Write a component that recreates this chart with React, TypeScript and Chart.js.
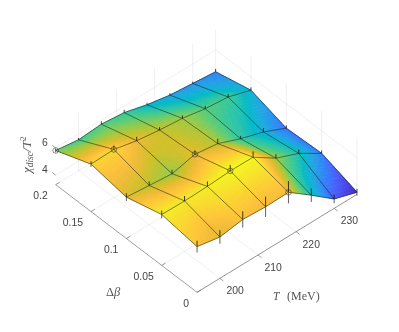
import React, { useEffect, useRef } from "react";
import { Chart, registerables } from "chart.js";

Chart.register(...registerables);

// ---- data ----
const temperature = [194, 200, 206, 212, 218, 224, 230, 236];
const deltaBeta = [0, 0.05, 0.1, 0.15, 0.2];
const chi00 = [6.66, 6.34, 6.6, 6.5, 6.54, 5.3, 3.99, 3.46];
const chi05 = [7.04, 7.01, 7.05, 7.16, 7.14, 6.04, 5.36, 4.34];
const chi10 = [6.34, 6.17, 6.0, 6.4, 6.16, 5.49, 4.96, 4.21];
const chi15 = [6.79, 6.84, 6.45, 6.21, 6.04, 5.72, 5.55, 5.02];
const chi20 = [5.81, 5.57, 5.69, 5.51, 5.06, 4.74, 4.57, 4.4];
const err00 = [0.43, 0.5, 0.6, 0.75, 0.82, 0.5, 0.32, 0.25];
const err05 = [0.29, 0.36, 0.36, 0.43, 0.43, 0.29, 0.29, 0.21];
const err10 = [0.29, 0.29, 0.29, 0.29, 0.36, 0.21, 0.29, 0.21];
const err15 = [0.21, 0.29, 0.29, 0.21, 0.21, 0.21, 0.21, 0.21];
const err20 = [0.14, 0.14, 0.21, 0.21, 0.14, 0.14, 0.14, 0.21];
const markerT = [194, 200, 212, 212, 218];
const markerBeta = [0.2, 0.15, 0.1, 0.05, 0];
const tTicks = [200, 210, 220, 230];
const betaTicks = [0, 0.05, 0.1, 0.15, 0.2];
const betaTickLabels = ["0", "0.05", "0.1", "0.15", "0.2"];
const zTicks = [4, 6];

const chi = [chi00, chi05, chi10, chi15, chi20];
const errs = [err00, err05, err10, err15, err20];

// ---- view of the 3D box ----
const T_MIN = 194, T_MAX = 236, B_MIN = 0, B_MAX = 0.2, Z_MIN = 3.3, Z_MAX = 7.5;
const C_MIN = 3.35, C_MAX = 7.2;
const project = (t: number, b: number, z: number) => ({
  x: 197 + (t - T_MIN) * 3.9 - b * 724,
  y: 296 - (t - T_MIN) * 2.4 - b * 554 - (z - Z_MIN) * 14,
});
const GAP = { x: NaN, y: NaN };

const parula = [
  [0.2422, 0.1504, 0.6603], [0.2647, 0.1978, 0.7952], [0.2783, 0.2559, 0.8991],
  [0.281, 0.3228, 0.9579], [0.2699, 0.3892, 0.9906], [0.2206, 0.4603, 0.9973],
  [0.1786, 0.5289, 0.9682], [0.154, 0.5902, 0.9218], [0.1248, 0.6459, 0.8883],
  [0.0689, 0.6948, 0.8394], [0.0067, 0.7312, 0.766], [0.1408, 0.7584, 0.6842],
  [0.2161, 0.7843, 0.5923], [0.3406, 0.8008, 0.4789], [0.5044, 0.7993, 0.348],
  [0.672, 0.7793, 0.2227], [0.8203, 0.7498, 0.1535], [0.9393, 0.7288, 0.21],
  [0.997, 0.7659, 0.2199], [0.9786, 0.8386, 0.1766], [0.9597, 0.9135, 0.1423],
  [0.9769, 0.9839, 0.0805],
];
const colorOf = (z: number) => {
  const u = Math.max(0, Math.min(1, (z - C_MIN) / (C_MAX - C_MIN))) * (parula.length - 1);
  const k = Math.min(parula.length - 2, Math.floor(u));
  const f = u - k;
  const c = parula[k].map((v, n) => Math.round(255 * (v + (parula[k + 1][n] - v) * f)));
  return `rgb(${c[0]},${c[1]},${c[2]})`;
};

const segs = (list: [number, number, number, number, number, number][]) => {
  const out: { x: number; y: number }[] = [];
  list.forEach(([a, b, c, d, e, f]) => out.push(project(a, b, c), project(d, e, f), GAP));
  return out;
};

type Seg = [number, number, number, number, number, number];
const gridSegs: Seg[] = [];
tTicks.forEach((t) => {
  gridSegs.push([t, B_MIN, Z_MIN, t, B_MAX, Z_MIN]);
  gridSegs.push([t, B_MAX, Z_MIN, t, B_MAX, Z_MAX]);
});
betaTicks.forEach((b) => {
  gridSegs.push([T_MIN, b, Z_MIN, T_MAX, b, Z_MIN]);
  gridSegs.push([T_MAX, b, Z_MIN, T_MAX, b, Z_MAX]);
});
zTicks.forEach((z) => {
  gridSegs.push([T_MIN, B_MAX, z, T_MAX, B_MAX, z]);
  gridSegs.push([T_MAX, B_MAX, z, T_MAX, B_MIN, z]);
});
const axisSegs: Seg[] = [
  [T_MIN, B_MIN, Z_MIN, T_MAX, B_MIN, Z_MIN],
  [T_MIN, B_MIN, Z_MIN, T_MIN, B_MAX, Z_MIN],
];
tTicks.forEach((t) => axisSegs.push([t, B_MIN, Z_MIN, t, B_MIN - 0.005, Z_MIN]));
betaTicks.forEach((b) => axisSegs.push([T_MIN, b, Z_MIN, T_MIN + 1, b, Z_MIN]));
zTicks.forEach((z) => axisSegs.push([T_MIN, B_MAX, z, T_MIN, B_MAX + 0.005, z]));

const lowerBars: Seg[] = [];
const upperBars: Seg[] = [];
const meshLines: Seg[] = [];
deltaBeta.forEach((b, j) =>
  temperature.forEach((t, i) => {
    const z = chi[j][i];
    lowerBars.push([t, b, z - errs[j][i], t, b, z]);
    upperBars.push([t, b, z, t, b, z + errs[j][i]]);
    if (i < temperature.length - 1) meshLines.push([t, b, z, temperature[i + 1], b, chi[j][i + 1]]);
    if (j < deltaBeta.length - 1) meshLines.push([t, b, z, t, deltaBeta[j + 1], chi[j + 1][i]]);
  })
);
const surfacePoints = deltaBeta.flatMap((b, j) => temperature.map((t, i) => project(t, b, chi[j][i])));
const markerPoints = markerT.map((t, k) => {
  const i = temperature.indexOf(t);
  const j = deltaBeta.indexOf(markerBeta[k]);
  return project(t, markerBeta[k], chi[j][i]);
});

const surfacePlugin = {
  id: "surface",
  afterDatasetDraw(chart: any, args: any) {
    if (chart.data.datasets[args.index].label !== "surface") return;
    const pts = args.meta.data;
    const nI = temperature.length;
    const ctx = chart.ctx as CanvasRenderingContext2D;
    const N = 14;
    ctx.save();
    ctx.lineWidth = 0.7;
    for (let j = deltaBeta.length - 2; j >= 0; j--) {
      for (let i = nI - 2; i >= 0; i--) {
        const p00 = pts[j * nI + i], p10 = pts[j * nI + i + 1];
        const p01 = pts[(j + 1) * nI + i], p11 = pts[(j + 1) * nI + i + 1];
        const z00 = chi[j][i], z10 = chi[j][i + 1], z01 = chi[j + 1][i], z11 = chi[j + 1][i + 1];
        const lerp = (a: number, b: number, c: number, d: number, u: number, v: number) =>
          a * (1 - u) * (1 - v) + b * u * (1 - v) + c * (1 - u) * v + d * u * v;
        for (let m = N - 1; m >= 0; m--) {
          for (let n = N - 1; n >= 0; n--) {
            const c = [[n, m], [n + 1, m], [n + 1, m + 1], [n, m + 1]].map(([a, b]) => ({
              x: lerp(p00.x, p10.x, p01.x, p11.x, a / N, b / N),
              y: lerp(p00.y, p10.y, p01.y, p11.y, a / N, b / N),
            }));
            const col = colorOf(lerp(z00, z10, z01, z11, (n + 0.5) / N, (m + 0.5) / N));
            ctx.fillStyle = col;
            ctx.strokeStyle = col;
            ctx.beginPath();
            c.forEach((q, k) => (k ? ctx.lineTo(q.x, q.y) : ctx.moveTo(q.x, q.y)));
            ctx.closePath();
            ctx.fill();
            ctx.stroke();
          }
        }
      }
    }
    ctx.restore();
  },
};

const SANS = '10.4px "Liberation Sans", Arial, sans-serif';
const labelPlugin = {
  id: "labels",
  afterDraw(chart: any) {
    const ctx = chart.ctx as CanvasRenderingContext2D;
    const sx = chart.scales.x, sy = chart.scales.y;
    const at = (t: number, b: number, z: number) => {
      const p = project(t, b, z);
      return { x: sx.getPixelForValue(p.x), y: sy.getPixelForValue(p.y) };
    };
    ctx.save();
    ctx.fillStyle = "#444444";
    ctx.font = SANS;
    ctx.textBaseline = "middle";
    ctx.textAlign = "right";
    betaTicks.forEach((b, k) => {
      const p = at(T_MIN, b, Z_MIN);
      ctx.fillText(betaTickLabels[k], p.x - 8, p.y + 11.5);
    });
    zTicks.forEach((z) => {
      const p = at(T_MIN, B_MAX, z);
      ctx.fillText(String(z), p.x - 8, p.y - 4.5);
    });
    ctx.textAlign = "left";
    tTicks.forEach((t) => {
      const p = at(t, B_MIN, Z_MIN);
      ctx.fillText(String(t), p.x + 6.5, p.y + 13);
    });

    const I = '"Liberation Serif", serif';
    type Span = { s: string; f: string; dy: number };
    const flow = (spans: Span[], x: number, y: number) => {
      let cx = x;
      spans.forEach((sp) => {
        ctx.font = sp.f;
        ctx.fillText(sp.s, cx, y + sp.dy);
        cx += ctx.measureText(sp.s).width;
      });
    };
    ctx.textBaseline = "alphabetic";
    ctx.fillStyle = "#555555";
    flow([{ s: "T", f: `italic 11.5px ${I}`, dy: 0 }], 273, 299.5);
    flow([{ s: "(MeV)", f: `12px ${I}`, dy: 0 }], 287, 299.5);
    flow(
      [
        { s: "\u0394", f: `12.5px ${I}`, dy: 0 },
        { s: "\u03B2", f: `italic 12.5px ${I}`, dy: 0 },
      ],
      106,
      296
    );
    ctx.translate(31, 173);
    ctx.rotate(-Math.PI / 2);
    flow(
      [
        { s: "\u03C7", f: `italic 13px ${I}`, dy: 0 },
        { s: "disc", f: `italic 9.5px ${I}`, dy: 2 },
        { s: "/T", f: `italic 13.5px ${I}`, dy: 0 },
        { s: "2", f: `8.5px ${I}`, dy: -5 },
      ],
      0,
      0
    );
    ctx.restore();
  },
};

const lineSet = (label: string, data: any[], color: string, width: number) => ({
  label,
  data,
  showLine: true,
  pointRadius: 0,
  borderColor: color,
  borderWidth: width,
  spanGaps: false,
  fill: false,
});

export default function App() {
  const ref = useRef<HTMLCanvasElement>(null);
  useEffect(() => {
    const paintOrder: any[] = [
      lineSet("grid", segs(gridSegs), "rgba(120,120,120,0.14)", 0.8),
      lineSet("axes", segs(axisSegs), "rgba(70,70,70,0.65)", 0.8),
      lineSet("lower bars", segs(lowerBars), "rgba(20,20,20,0.75)", 0.9),
      { label: "surface", data: surfacePoints, showLine: false, pointRadius: 0 },
      lineSet("mesh", segs(meshLines), "rgba(15,25,25,0.75)", 0.7),
      lineSet("upper bars", segs(upperBars), "rgba(10,10,10,0.85)", 0.9),
      {
        label: "markers",
        data: markerPoints,
        showLine: false,
        pointRadius: 2.8,
        pointStyle: "circle",
        pointBackgroundColor: "rgba(0,0,0,0)",
        pointBorderColor: "rgba(30,30,30,0.7)",
        pointBorderWidth: 0.7,
      },
    ];
    paintOrder.forEach((d, k) => (d.order = paintOrder.length - k));
    const chart = new Chart(ref.current as HTMLCanvasElement, {
      type: "scatter",
      data: { datasets: paintOrder },
      options: {
        responsive: false,
        animation: false,
        layout: { padding: 0 },
        plugins: { legend: { display: false }, tooltip: { enabled: false } },
        scales: {
          x: { type: "linear", min: 0, max: 399, display: false },
          y: { type: "linear", min: 0, max: 332, reverse: true, display: false },
        },
      },
      plugins: [surfacePlugin, labelPlugin],
    } as any);
    return () => chart.destroy();
  }, []);
  return (
    <canvas
      ref={ref}
      width={399}
      height={332}
      style={{ position: "absolute", left: 0, top: 0, width: 399, height: 332, background: "#fff" }}
    />
  );
}
